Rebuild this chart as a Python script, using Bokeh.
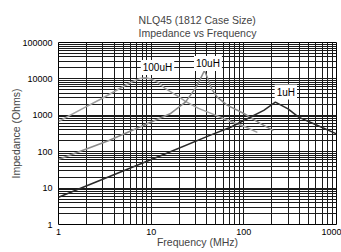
from bokeh.plotting import figure
from bokeh.models import LogTicker, PrintfTickFormatter, Label
from bokeh.embed import file_html
from bokeh.resources import INLINE

# Data (frequency in MHz, impedance in Ohms)
freq_100uH = [1, 1.86, 2.84, 5.98, 7.5, 8.7, 10.0, 11.9, 14.0, 20.7, 23.4, 32.4, 43.6, 70, 100, 140]
z_100uH = [675, 1570, 2760, 7960, 10200, 10800, 10000, 8000, 5600, 3000, 2400, 1550, 1150, 700, 500, 340]

freq_10uH = [1, 3.5, 16, 23.4, 30, 34, 37.6, 42, 45.5, 52, 66, 100, 150, 208]
z_10uH = [61, 203, 1100, 2300, 5500, 10000, 17000, 8500, 5000, 3100, 1900, 1120, 600, 380]

freq_1uH = [1, 15.4, 43.6, 72, 100, 164, 219, 300, 390, 568, 1000]
z_1uH = [5.6, 95, 285, 470, 720, 1360, 2290, 1500, 890, 585, 310]

FONT = "Liberation Sans"

p = figure(width=341, height=252, x_axis_type="log", y_axis_type="log",
           x_range=(1, 1000), y_range=(1, 100000),
           output_backend="svg", toolbar_location=None,
           min_border_left=58, min_border_right=5, min_border_top=42, min_border_bottom=28)

p.title.text = "NLQ45 (1812 Case Size)\nImpedance vs Frequency"
p.title.align = "center"
p.title.text_font = FONT
p.title.text_font_size = "10.5px"
p.title.text_font_style = "normal"
p.title.text_line_height = 1.1
p.title.standoff = 6

p.background_fill_color = "white"
p.border_fill_color = "white"
p.outline_line_color = "black"
p.outline_line_width = 1

for ax in (p.xaxis[0], p.yaxis[0]):
    ax.ticker = LogTicker(num_minor_ticks=10)
    ax.formatter = PrintfTickFormatter(format="%d")
    ax.major_tick_out = 0
    ax.major_tick_in = 0
    ax.minor_tick_out = 0
    ax.minor_tick_in = 0
    ax.axis_line_color = None
    ax.major_label_text_font = FONT
    ax.major_label_text_font_size = "9px"
    ax.major_label_text_color = "black"
    ax.axis_label_text_font = FONT
    ax.axis_label_text_font_size = "10.5px"
    ax.axis_label_text_font_style = "normal"

p.xaxis.major_label_standoff = 4
p.xaxis.axis_label = "Frequency (MHz)"
p.xaxis.axis_label_standoff = -2
p.yaxis.major_label_standoff = 6
p.yaxis.axis_label = "Impedance (Ohms)"
p.yaxis.axis_label_standoff = -3

for g in (p.xgrid[0], p.ygrid[0]):
    g.grid_line_color = "#1a1a1a"
    g.grid_line_width = 1
    g.minor_grid_line_color = "#1a1a1a"
    g.minor_grid_line_width = 1

p.line(freq_100uH, z_100uH, line_color="#a0a0a0", line_width=1.5)
p.line(freq_10uH, z_10uH, line_color="#8a8a8a", line_width=1.5)
p.line(freq_1uH, z_1uH, line_color="#2a2a2a", line_width=1.5)

for txt, fx, zy in (("100uH", 11.7, 20500), ("10uH", 41, 26300), ("1uH", 284, 4360)):
    p.add_layout(Label(x=fx, y=zy, text=txt, text_align="center", text_baseline="middle",
                       text_font=FONT, text_font_size="10px", text_color="black",
                       background_fill_color="white", padding=2))

open("out.html", "w").write(file_html(p, INLINE))
